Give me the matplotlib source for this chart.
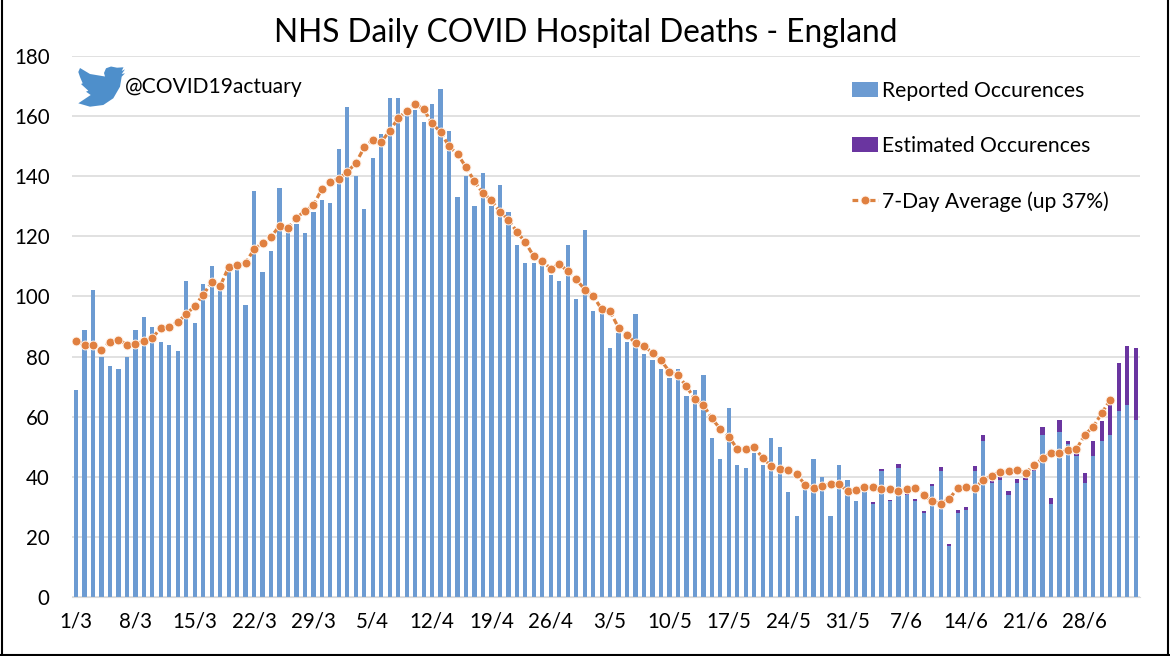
import matplotlib
matplotlib.use("Agg")
import matplotlib.pyplot as plt
from matplotlib.patches import Polygon

plt.rcParams["font.family"] = ["Lato", "DejaVu Sans"]

TICK_LABELS = ["1/3", "8/3", "15/3", "22/3", "29/3", "5/4", "12/4", "19/4", "26/4",
               "3/5", "10/5", "17/5", "24/5", "31/5", "7/6", "14/6", "21/6", "28/6"]

reported = [69, 89, 102, 80, 77, 76, 80, 89, 93, 90, 85, 84, 82, 105, 91, 104, 110, 102,
            108, 109, 97, 135, 108, 115, 136, 121, 124, 121, 128, 132, 131, 149, 163, 140,
            129, 146, 154, 166, 166, 160, 162, 158, 164, 169, 155, 133, 140, 130, 141, 130,
            137, 128, 117, 111, 111, 110, 107, 105, 117, 99, 122, 95, 94, 83, 88, 85, 94,
            81, 79, 76, 73, 76, 67, 69, 74, 53, 46, 63, 44, 43, 48, 44, 53, 50, 35, 27, 36,
            46, 40, 27, 44, 39, 32, 35, 31, 42, 32, 43, 34, 32, 28, 37, 42, 17, 28, 29, 42,
            52, 38, 39, 34, 38, 39, 42, 54, 31, 55, 51, 47, 38, 47, 52, 54, 62, 64, 59]

# only the most recent days have an estimate on top of the reported count
estimated = [0.0] * 94 + [0.6, 0.6, 0.3, 1.1, 0.4, 0.6, 0.5, 0.7, 1.1, 0.7, 1.0, 1.0, 1.6, 1.8,
                          0.7, 1.0, 1.3, 1.3, 0.6, 0.2, 2.6, 2.0, 4.0, 0.9, 0.8, 3.3, 4.9, 6.6,
                          9.9, 15.9, 19.5, 23.9]

avg_7day = [85.2, 84.0, 84.0, 82.2, 84.9, 85.6, 84.0, 84.1, 85.2, 86.1, 89.6, 89.8, 91.5, 94.1,
            96.8, 100.6, 104.7, 103.4, 109.8, 110.4, 111.2, 115.7, 117.8, 119.8, 123.5, 122.7,
            126.2, 128.4, 130.3, 135.8, 138.1, 139.2, 141.4, 144.4, 149.6, 152.1, 151.4, 155.1,
            159.3, 161.8, 164.0, 162.3, 157.6, 154.7, 149.9, 147.4, 143.0, 138.3, 134.3, 132.1,
            128.1, 125.6, 121.5, 118.0, 113.3, 111.8, 109.2, 110.8, 108.4, 105.7, 102.3, 100.2,
            95.7, 95.0, 89.5, 87.3, 84.4, 83.4, 81.3, 78.7, 75.0, 73.8, 70.1, 65.8, 63.9, 59.4,
            55.9, 53.3, 49.3, 49.3, 49.9, 46.2, 43.6, 42.7, 42.2, 40.9, 37.3, 36.3, 36.9, 37.6,
            37.5, 35.3, 35.7, 36.6, 36.6, 36.0, 36.0, 35.2, 36.0, 36.3, 34.0, 31.8, 31.1, 32.6,
            36.3, 36.6, 36.3, 38.8, 40.4, 41.7, 41.8, 42.3, 41.2, 43.9, 46.1, 47.9, 47.8, 49.0,
            49.2, 54.0, 56.7, 61.2, 65.7]

# logo outline in pixels from the top-left corner of the figure
bird_x = [125, 121.7, 123.5, 117, 111, 106, 104, 105, 90, 80, 78.3, 80, 82.7, 81, 88.3, 86, 90.7,
          78.3, 90, 103.3, 113.3, 120, 121.7, 125, 121.7]
bird_y = [69.3, 71, 67.3, 67.7, 66.5, 68.3, 73, 76.5, 74, 68, 72, 77, 83.3, 84, 90.7, 91.7, 95,
          103.3, 106.7, 105, 98.3, 86.7, 76.7, 73.3, 74]

W, H = 1170, 656
fig = plt.figure(figsize=(W / 100, H / 100), dpi=100)
ax = fig.add_axes([71.8 / W, 1 - 597 / H, (1140 - 71.8) / W, (597 - 56) / H])

days = list(range(len(reported)))
rep_bars = ax.bar(days, reported, width=0.5, color="#6C9BD2", label="Reported Occurences", zorder=2)
est_bars = ax.bar(days, estimated, width=0.5, bottom=reported, color="#6A35A0",
                  label="Estimated Occurences", zorder=2)
avg_line, = ax.plot(days[:len(avg_7day)], avg_7day, color="#DC8240", lw=2.3, ls=(0, (1.8, 0.9)),
                    marker="o", ms=6.4, mfc="#E08040", mec="#FFF3EA", mew=0.7,
                    label="7-Day Average (up 37%)", zorder=3)

ax.set_xlim(-0.5, 125.5)
ax.set_ylim(0, 180)
ax.set_yticks(range(0, 181, 20))
ax.set_xticks(range(0, 120, 7))
ax.set_xticklabels(TICK_LABELS)
ax.tick_params(length=0, labelsize=14.8, colors="black")
ax.tick_params(axis="x", pad=10.5)
ax.tick_params(axis="y", pad=16)
ax.grid(axis="y", color="#D9D9D9", lw=1.1, zorder=0)
ax.set_axisbelow(True)
for side in ("top", "right", "left"):
    ax.spines[side].set_visible(False)
ax.spines["bottom"].set_color("#D9D9D9")

ax.legend(handles=[rep_bars, est_bars, avg_line], loc="upper left",
          bbox_to_anchor=(753 / (1140 - 71.8), 1.005), frameon=False, fontsize=15.2,
          handlelength=1.2, handletextpad=0.2, labelspacing=1.67, numpoints=1, borderaxespad=0.9)

fig.text(586 / W, 1 - 33 / H, "NHS Daily COVID Hospital Deaths - England", fontsize=22.8,
         ha="center", va="center")
fig.text(125 / W, 1 - 87 / H, "@COVID19actuary", fontsize=15.1, ha="left", va="center")

fig.add_artist(Polygon([(x / W, 1 - y / H) for x, y in zip(bird_x, bird_y)], closed=True,
                       facecolor="#4E8FCB", edgecolor="none", transform=fig.transFigure))

# dark frame on three sides of the figure
for x0, y0, x1, y1 in [(0.0015, 0, 0.0015, 1), (0, 0.002, 1, 0.002), (0.9985, 0, 0.9985, 1)]:
    fig.add_artist(plt.Line2D([x0, x1], [y0, y1], color="black", lw=1.5, transform=fig.transFigure))

fig.savefig("out.png", dpi=100)
plt.close(fig)
